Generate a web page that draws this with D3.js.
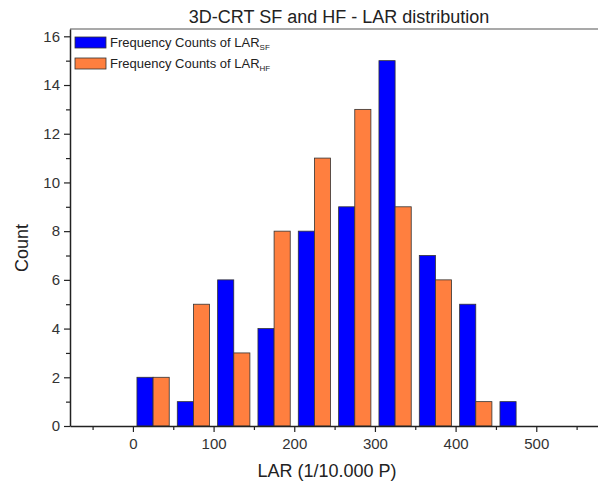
<!DOCTYPE html>
<html>
<head>
<meta charset="utf-8">
<script src="https://cdn.jsdelivr.net/npm/d3@7/dist/d3.min.js"></script>
<style>
  html, body { margin: 0; padding: 0; background: #fff; }
  svg { display: block; font-family: "Liberation Sans", Arial, sans-serif; }
</style>
</head>
<body>
<svg id="chart" width="598" height="486"></svg>
<script>
// Histogram bins (lower edges, LAR in 1/10.000 P), bin width 50
const binStarts = [0, 50, 100, 150, 200, 250, 300, 350, 400, 450];
const countsSF = [2, 1, 6, 4, 8, 9, 15, 7, 5, 1];
const countsHF = [2, 5, 3, 8, 11, 13, 9, 6, 1, 0];
const binWidth = 50;

const xMajorTicks = [0, 100, 200, 300, 400, 500];
const xMinorTicks = [-50, 50, 150, 250, 350, 450, 550];
const yMajorTicks = [0, 2, 4, 6, 8, 10, 12, 14, 16];
const yMinorTicks = [1, 3, 5, 7, 9, 11, 13, 15];

const titleText = "3D-CRT SF and HF - LAR distribution";
const xLabel = "LAR (1/10.000 P)";
const yLabel = "Count";
const legendBase = "Frequency Counts of LAR";
const legendSubs = ["SF", "HF"];

const colorSF = "#0000ff";
const colorHF = "#ff7f3f";

const svg = d3.select("#chart");
const plotLeft = 70, plotRight = 600, plotTop = 29, plotBottom = 426;

const x = d3.scaleLinear().domain([-78, 579]).range([plotLeft, plotRight]);
const y = d3.scaleLinear().domain([0, 16.3]).range([plotBottom, plotTop]);

// Bars: each bin holds an SF/HF pair filling 80% of the bin
const pad = binWidth * 0.1;
const half = (binWidth - 2 * pad) / 2;
const barsG = svg.append("g");
binStarts.forEach((b, i) => {
  if (countsSF[i] > 0) {
    barsG.append("rect")
      .attr("x", x(b + pad)).attr("width", x(b + pad + half) - x(b + pad))
      .attr("y", y(countsSF[i])).attr("height", y(0) - y(countsSF[i]))
      .attr("fill", colorSF).attr("stroke", "#333").attr("stroke-width", 0.8);
  }
  if (countsHF[i] > 0) {
    barsG.append("rect")
      .attr("x", x(b + pad + half)).attr("width", x(b + pad + 2 * half) - x(b + pad + half))
      .attr("y", y(countsHF[i])).attr("height", y(0) - y(countsHF[i]))
      .attr("fill", colorHF).attr("stroke", "#333").attr("stroke-width", 0.8);
  }
});

// Frame top line
svg.append("line").attr("x1", plotLeft).attr("x2", plotRight).attr("y1", plotTop).attr("y2", plotTop)
  .attr("stroke", "#555").attr("stroke-width", 1.2);

// Axes
svg.append("g").attr("transform", `translate(0,${plotBottom})`)
  .call(d3.axisBottom(x).tickValues(xMajorTicks).tickSize(6).tickSizeOuter(0).tickPadding(6));
svg.append("g").attr("transform", `translate(0,${plotBottom})`)
  .call(d3.axisBottom(x).tickValues(xMinorTicks).tickSize(4).tickFormat("").tickSizeOuter(0))
  .select(".domain").remove();
svg.append("g").attr("transform", `translate(${plotLeft},0)`)
  .call(d3.axisLeft(y).tickValues(yMajorTicks).tickSize(6).tickSizeOuter(0).tickPadding(4));
svg.append("g").attr("transform", `translate(${plotLeft},0)`)
  .call(d3.axisLeft(y).tickValues(yMinorTicks).tickSize(4).tickFormat("").tickSizeOuter(0))
  .select(".domain").remove();

svg.selectAll(".domain").attr("stroke", "#222").attr("stroke-width", 1.5);
svg.selectAll(".tick line").attr("stroke", "#222").attr("stroke-width", 1.2);
svg.selectAll(".tick text").attr("font-size", 15).attr("fill", "#333")
  .attr("font-family", "Liberation Sans, Arial, sans-serif");

// Title and axis labels
svg.append("text").attr("x", 339).attr("y", 23).attr("text-anchor", "middle")
  .attr("font-size", 18).attr("fill", "#222").text(titleText);
svg.append("text").attr("x", 327).attr("y", 477).attr("text-anchor", "middle")
  .attr("font-size", 18).attr("fill", "#222").text(xLabel);
svg.append("text").attr("transform", "translate(28,248) rotate(-90)").attr("text-anchor", "middle")
  .attr("font-size", 18).attr("fill", "#222").text(yLabel);

// Legend
const legend = svg.append("g");
[colorSF, colorHF].forEach((c, i) => {
  const ly = 37 + i * 21;
  legend.append("rect").attr("x", 75).attr("y", ly).attr("width", 31).attr("height", 11)
    .attr("fill", c).attr("stroke", "#333").attr("stroke-width", 0.8);
  const t = legend.append("text").attr("x", 110).attr("y", ly + 10)
    .attr("font-size", 13).attr("fill", "#222");
  t.append("tspan").text(legendBase);
  t.append("tspan").attr("font-size", 8).attr("dy", 3).text(legendSubs[i]);
});
</script>
</body>
</html>
